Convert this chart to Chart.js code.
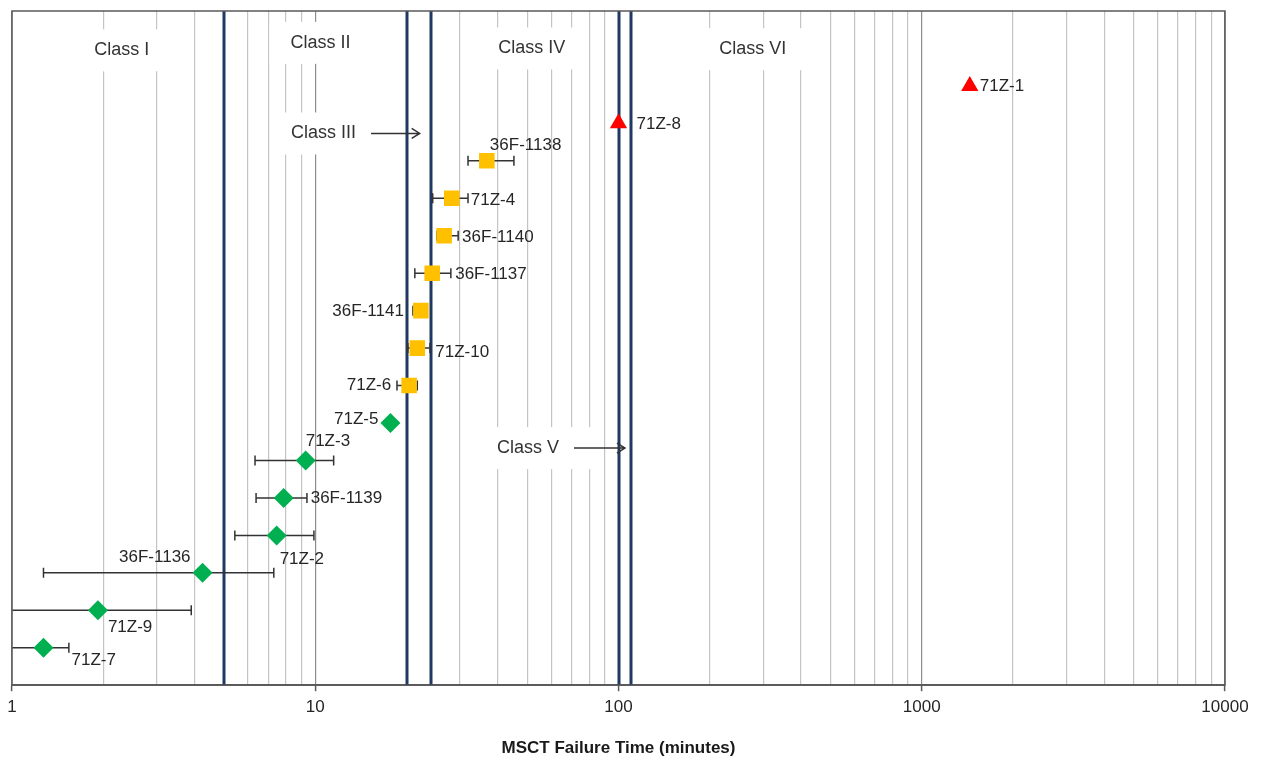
<!DOCTYPE html>
<html>
<head>
<meta charset="utf-8">
<script src="https://cdn.jsdelivr.net/npm/chart.js@4.4.0/dist/chart.umd.min.js"></script>
<style>
  html, body { margin: 0; padding: 0; background: #fff; }
  #wrap { width: 1261px; height: 759px; }
</style>
</head>
<body>
<div id="wrap"><canvas id="chart"></canvas></div>
<script>
// samples, bottom row first (row 1 = 71Z-7)
const samples = ['71Z-7', '71Z-9', '36F-1136', '71Z-2', '36F-1139', '71Z-3', '71Z-5', '71Z-6',
    '71Z-10', '36F-1141', '36F-1137', '36F-1140', '71Z-4', '36F-1138', '71Z-8', '71Z-1'];
const failTime = [1.27, 1.92, 4.25, 7.46, 7.87, 9.3, 17.7, 20.4, 21.7, 22.3, 24.3, 26.6, 28.2, 36.8, 100, 1440];
const errLow = [1.0, 1.0, 1.27, 5.43, 6.38, 6.33, null, 18.6, 20.2, 21.0, 21.3, 25.2, 24.4, 31.9, null, null];
const errHigh = [1.54, 3.9, 7.3, 9.9, 9.39, 11.5, null, 21.7, 23.9, 23.3, 28.0, 29.6, 31.9, 45.2, null, null];
const markerGroup = ['g', 'g', 'g', 'g', 'g', 'g', 'g', 'o', 'o', 'o', 'o', 'o', 'o', 'o', 'r', 'r'];

// class boundaries and class annotations
const classBounds = [5, 20, 24, 100, 110];
const classLabels = ['Class I', 'Class II', 'Class III', 'Class IV', 'Class V', 'Class VI'];
const classLabelX = [2.3, 10.4, 10.65, 51.8, 50.3, 277];
const classLabelY = [16.95, 17.15, 14.73, 17.0, 6.33, 16.98];
const classArrowTo = [null, null, 22.1, null, 105, null];

const xTicks = [1, 10, 100, 1000, 10000];

// label placement next to each marker: [dx, dy, align]
const labelPlace = {
    '71Z-7': [28, 13, 'left'],
    '71Z-9': [10, 17, 'left'],
    '36F-1136': [-12, -16, 'right'],
    '71Z-2': [3, 24, 'left'],
    '36F-1139': [27, 0, 'left'],
    '71Z-3': [0, -19, 'left'],
    '71Z-5': [-12, -4, 'right'],
    '71Z-6': [-18, 0, 'right'],
    '71Z-10': [18, 4, 'left'],
    '36F-1141': [-17, 1, 'right'],
    '36F-1137': [23, 1, 'left'],
    '36F-1140': [18, 2, 'left'],
    '71Z-4': [19, 2, 'left'],
    '36F-1138': [3, -16, 'left'],
    '71Z-8': [18, 1, 'left'],
    '71Z-1': [10, 0, 'left']
};

const groups = {
    g: {color: '#00b050', style: 'rectRot', radius: 10},
    o: {color: '#ffc000', style: 'rect', radius: 11},
    r: {color: '#ff0000', style: 'triangle', radius: 10}
};

function groupData(key) {
    const pts = [];
    for (let i = 0; i < samples.length; i++) {
        if (markerGroup[i] === key) pts.push({x: failTime[i], y: i + 1});
    }
    return pts;
}

const datasets = Object.keys(groups).map(k => ({
    label: k,
    data: groupData(k),
    pointStyle: groups[k].style,
    pointRadius: groups[k].radius,
    pointHoverRadius: groups[k].radius,
    backgroundColor: groups[k].color,
    borderColor: groups[k].color,
    borderWidth: 0
}));

const fontFamily = '"Liberation Sans", Arial, sans-serif';

const overlay = {
    id: 'overlay',
    beforeDatasetsDraw(chart) {
        const {ctx, chartArea: a, scales: {x, y}} = chart;
        ctx.save();
        // white boxes behind the class labels
        ctx.font = '18px ' + fontFamily;
        classLabels.forEach((t, i) => {
            const cx = x.getPixelForValue(classLabelX[i]);
            const cy = y.getPixelForValue(classLabelY[i]);
            const w = ctx.measureText(t).width;
            const left = cx - w / 2 - 21;
            const right = cx + w / 2 + (classArrowTo[i] ? 36 : 21);
            ctx.fillStyle = '#fff';
            ctx.fillRect(left, cy - 21, right - left, 42);
        });
        // class boundaries
        ctx.strokeStyle = '#1f3864';
        ctx.lineWidth = 3;
        classBounds.forEach(v => {
            const px = Math.round(x.getPixelForValue(v));
            ctx.beginPath();
            ctx.moveTo(px, a.top);
            ctx.lineTo(px, a.bottom);
            ctx.stroke();
        });
        // error bars
        ctx.strokeStyle = '#333';
        ctx.lineWidth = 1.5;
        for (let i = 0; i < samples.length; i++) {
            if (errLow[i] == null) continue;
            const py = y.getPixelForValue(i + 1);
            const x1 = Math.max(x.getPixelForValue(errLow[i]), a.left);
            const x2 = x.getPixelForValue(errHigh[i]);
            ctx.beginPath();
            ctx.moveTo(x1, py);
            ctx.lineTo(x2, py);
            if (x1 > a.left + 1) {
                ctx.moveTo(x1, py - 5);
                ctx.lineTo(x1, py + 5);
            }
            ctx.moveTo(x2, py - 5);
            ctx.lineTo(x2, py + 5);
            ctx.stroke();
        }
        // plot frame
        ctx.strokeStyle = '#595959';
        ctx.lineWidth = 1.5;
        ctx.strokeRect(a.left, a.top, a.right - a.left, a.bottom - a.top);
        ctx.restore();
    },
    afterDatasetsDraw(chart) {
        const {ctx, scales: {x, y}} = chart;
        ctx.save();
        ctx.textBaseline = 'middle';
        // sample names
        ctx.font = '17px ' + fontFamily;
        ctx.fillStyle = '#262626';
        for (let i = 0; i < samples.length; i++) {
            const p = labelPlace[samples[i]];
            ctx.textAlign = p[2];
            ctx.fillText(samples[i], x.getPixelForValue(failTime[i]) + p[0], y.getPixelForValue(i + 1) + p[1]);
        }
        // class names and arrows
        ctx.font = '18px ' + fontFamily;
        ctx.fillStyle = '#333';
        ctx.textAlign = 'center';
        classLabels.forEach((t, i) => {
            const cx = x.getPixelForValue(classLabelX[i]);
            const cy = y.getPixelForValue(classLabelY[i]);
            ctx.fillText(t, cx, cy);
            if (classArrowTo[i]) {
                const w = ctx.measureText(t).width;
                const x0 = cx + w / 2 + 15;
                const x1 = x.getPixelForValue(classArrowTo[i]);
                ctx.strokeStyle = '#333';
                ctx.lineWidth = 1.5;
                ctx.beginPath();
                ctx.moveTo(x0, cy);
                ctx.lineTo(x1, cy);
                ctx.moveTo(x1 - 8, cy - 5);
                ctx.lineTo(x1, cy);
                ctx.lineTo(x1 - 8, cy + 5);
                ctx.stroke();
            }
        });
        ctx.restore();
    }
};

new Chart(document.getElementById('chart'), {
    type: 'scatter',
    data: {datasets: datasets},
    plugins: [overlay],
    options: {
        responsive: true,
        maintainAspectRatio: false,
        animation: false,
        layout: {padding: {left: 12, right: 36, top: 7, bottom: 0}},
        plugins: {
            legend: {display: false},
            tooltip: {enabled: false}
        },
        scales: {
            x: {
                type: 'logarithmic',
                min: 1,
                max: 10000,
                afterBuildTicks: scale => {
                    const t = [];
                    for (let e = 0; e < 4; e++) {
                        for (let s = 1; s < 10; s++) t.push({value: s * Math.pow(10, e)});
                    }
                    t.push({value: 10000});
                    scale.ticks = t;
                },
                ticks: {
                    autoSkip: false,
                    maxRotation: 0,
                    padding: 6,
                    color: '#262626',
                    font: {family: fontFamily, size: 17},
                    callback: v => xTicks.includes(v) ? String(v) : ''
                },
                grid: {
                    color: c => xTicks.includes(c.tick && c.tick.value) ? '#8c8c8c' : '#c4c4c4',
                    lineWidth: 1.2,
                    tickLength: 6,
                    tickColor: c => xTicks.includes(c.tick && c.tick.value) ? '#595959' : 'rgba(0,0,0,0)',
                    tickWidth: 1.5
                },
                border: {color: '#595959', width: 1.5},
                title: {
                    display: true,
                    text: 'MSCT Failure Time (minutes)',
                    color: '#1a1a1a',
                    font: {family: fontFamily, size: 17, weight: 'bold'},
                    padding: {top: 15, bottom: 0}
                }
            },
            y: {
                display: false,
                min: 0,
                max: 18
            }
        }
    }
});
</script>
</body>
</html>
